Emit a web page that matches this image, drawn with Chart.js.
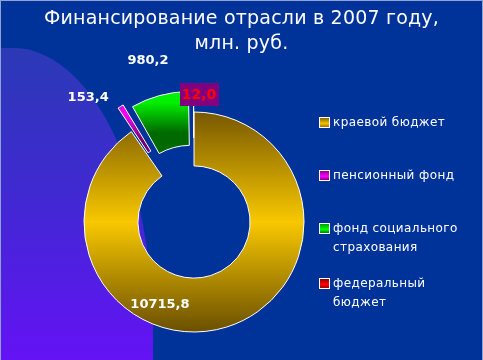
<!DOCTYPE html>
<html><head><meta charset="utf-8">
<script src="https://cdn.jsdelivr.net/npm/chart.js@4/dist/chart.umd.min.js"></script>
<style>
html,body{margin:0;padding:0;}
body{width:483px;height:360px;overflow:hidden;background:#003399;position:relative;font-family:"DejaVu Sans",sans-serif;}
#blob{position:absolute;left:0;top:48px;width:153px;height:312px;border-top-right-radius:140px 282px;background:linear-gradient(to bottom,#2b3ab6 0%,#4228d4 50%,#6412f5 100%);}
#frame{position:absolute;left:0;top:0;width:481px;height:359px;border:1px solid #8ea2d6;border-bottom:none;pointer-events:none;}
canvas{position:absolute;left:0;top:0;}
#title{position:absolute;left:0;top:5px;width:483px;text-align:center;color:#fff;font-size:19px;line-height:25px;letter-spacing:0.2px;}
.item{position:absolute;left:319px;display:flex;align-items:flex-start;color:#fff;font-size:12px;line-height:19px;letter-spacing:0.4px;}
.box{width:9px;height:9px;border:1px solid #fff;margin-top:4px;margin-right:3px;flex:none;}
.txt{width:132px;}
</style></head>
<body>
<div id="blob"></div>
<canvas id="c" width="483" height="360"></canvas>
<div id="title">Финансирование отрасли в 2007 году,<br>млн. руб.</div>
<div id="legend"></div>
<div id="frame"></div>
<script>
const categories = ['краевой бюджет', 'пенсионный фонд', 'фонд социального страхования', 'федеральный бюджет'];
const values = [10715.8, 153.4, 980.2, 12.0];
const valueLabels = values.map(v => v.toFixed(1).replace('.', ','));

// styling / layout
const baseColors = ['#d8aa00', '#e000e0', '#00e000', '#ff0000'];
const legendBoxCss = [
  'linear-gradient(to bottom,#8a6a00,#f0c000 60%,#9a7800)',
  'linear-gradient(to bottom,#900090,#ff00ff 60%,#800080)',
  'linear-gradient(to bottom,#00a000,#00ff00 60%,#008000)',
  'linear-gradient(to bottom,#900000,#ff0000 60%,#a00000)'
];
const legendTops = [113, 166, 219, 274];
const labelPolar = [[112.5, 89], [-130.5, 163], [-105.9, 168], [-87.8, 128]];

const leg = document.getElementById('legend');
categories.forEach((name, i) => {
  const it = document.createElement('div');
  it.className = 'item';
  it.style.top = legendTops[i] + 'px';
  const b = document.createElement('div');
  b.className = 'box';
  b.style.background = legendBoxCss[i];
  const t = document.createElement('div');
  t.className = 'txt';
  t.textContent = name;
  it.appendChild(b); it.appendChild(t);
  leg.appendChild(it);
});

function fill(ctx) {
  const chart = ctx.chart;
  const area = chart.chartArea;
  const i = ctx.dataIndex;
  if (!area) return baseColors[i];
  const c = chart.ctx;
  const cy = (area.top + area.bottom) / 2;
  let g;
  if (i === 0) {
    g = c.createLinearGradient(0, cy - 110, 0, cy + 110);
    g.addColorStop(0, '#785800');
    g.addColorStop(0.5, '#f8c800');
    g.addColorStop(1, '#6a4f00');
    return g;
  }
  if (i === 1) {
    g = c.createLinearGradient(0, cy - 118, 0, cy - 70);
    g.addColorStop(0, '#900090');
    g.addColorStop(0.45, '#ff00ff');
    g.addColorStop(1, '#700070');
    return g;
  }
  if (i === 2) {
    g = c.createLinearGradient(0, cy - 136, 0, cy - 76);
    g.addColorStop(0, '#00ff00');
    g.addColorStop(0.5, '#00f000');
    g.addColorStop(1, '#006a00');
    return g;
  }
  return baseColors[i];
}

const labelPlugin = {
  id: 'vlabels',
  afterDatasetsDraw(chart) {
    const meta = chart.getDatasetMeta(0);
    const c = chart.ctx;
    c.save();
    c.textAlign = 'center';
    c.textBaseline = 'middle';
    meta.data.forEach((arc, i) => {
      const [ang, r] = labelPolar[i];
      const a = ang * Math.PI / 180;
      const x = arc.x + r * Math.cos(a);
      const y = arc.y + r * Math.sin(a);
      if (i === 3) {
        c.font = 'bold 14px "DejaVu Sans"';
        const w = c.measureText(valueLabels[i]).width;
        c.fillStyle = '#800080';
        c.fillRect(Math.round(x - w / 2 - 2), Math.round(y - 11.5), Math.round(w + 4), 23);
        c.fillStyle = '#ff0000';
        c.fillText(valueLabels[i], x, y + 1);
      } else {
        c.font = 'bold 13px "DejaVu Sans"';
        c.fillStyle = '#ffffff';
        c.fillText(valueLabels[i], x, y);
      }
    });
    c.restore();
  }
};

new Chart(document.getElementById('c'), {
  type: 'doughnut',
  data: {
    labels: categories,
    datasets: [{
      data: values,
      backgroundColor: fill,
      borderColor: '#ffffff',
      borderWidth: 1,
      offset: [0, 56, 56, 56],
      radius: 110,
      cutout: '51%'
    }]
  },
  options: {
    responsive: false,
    animation: false,
    events: [],
    layout: { padding: { left: 0, right: 95, top: 84, bottom: 0 } },
    plugins: { legend: { display: false }, title: { display: false }, tooltip: { enabled: false } }
  },
  plugins: [labelPlugin]
});
</script>
</body></html>
